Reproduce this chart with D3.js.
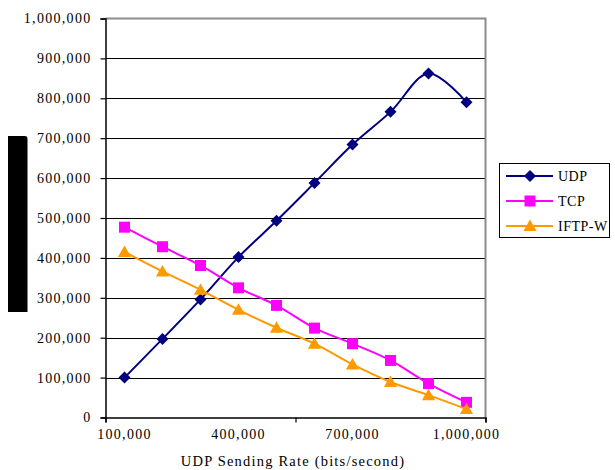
<!DOCTYPE html>
<html>
<head>
<meta charset="utf-8">
<script src="https://cdn.jsdelivr.net/npm/d3@7"></script>
<style>
  html, body { margin: 0; padding: 0; background: #fff; }
  svg text { font-family: "Liberation Serif", "Times New Roman", serif; fill: #000; }
</style>
</head>
<body>
<script>
// Sending rates (categories along the x axis)
const rates = [100000, 200000, 300000, 400000, 500000, 600000, 700000, 800000, 900000, 1000000];
// Throughput per protocol (bits/second)
const udp   = [100000, 197000, 296000, 402000, 493000, 588000, 684000, 766000, 862000, 790000];
const tcp   = [477000, 428000, 381000, 325000, 281000, 224000, 185000, 143000, 85000, 38000];
const iftpw = [415000, 366000, 320000, 270000, 225000, 185000, 133000, 89000, 56000, 21000];
const seriesNames = ["UDP", "TCP", "IFTP-W"];
const yTicks = [0, 100000, 200000, 300000, 400000, 500000, 600000, 700000, 800000, 900000, 1000000];
const xLabelRates = [100000, 400000, 700000, 1000000];
const xAxisTitle = "UDP Sending Rate (bits/second)";

const W = 615, H = 470;
const plot = { left: 105.5, right: 485.5, top: 18.5, bottom: 417.5 };

const svg = d3.select("body").append("svg").attr("width", W).attr("height", H);

const x = d3.scaleBand().domain(rates).range([plot.left, plot.right]).paddingInner(0).paddingOuter(0);
const xEdge = d3.scaleLinear().domain([0, rates.length]).range([plot.left, plot.right]);
const y = d3.scaleLinear().domain([0, 1000000]).range([plot.bottom, plot.top]);
const cx = d => x(d) + x.bandwidth() / 2;

// Horizontal gridlines
svg.append("g").selectAll("line")
  .data(yTicks.filter(v => v > 0 && v < 1000000))
  .join("line")
  .attr("x1", plot.left).attr("x2", plot.right)
  .attr("y1", d => Math.round(y(d)) + 0.5).attr("y2", d => Math.round(y(d)) + 0.5)
  .attr("stroke", "#000").attr("stroke-width", 1);

// Plot-area border on the top and right
svg.append("path")
  .attr("d", `M${plot.left},${plot.top}H${plot.right}V${plot.bottom}`)
  .attr("fill", "none").attr("stroke", "#8c8c8c").attr("stroke-width", 2);

// Y axis
const yAxis = d3.axisLeft(y).tickValues(yTicks).tickFormat(d3.format(",")).tickSize(5).tickPadding(9);
const gy = svg.append("g").attr("transform", `translate(${plot.left},0)`).call(yAxis);
gy.select(".domain").attr("stroke", "#000").attr("stroke-width", 1.5);
gy.selectAll(".tick line").attr("stroke", "#000").attr("stroke-width", 1.2);
gy.selectAll("text").attr("font-size", 14).attr("letter-spacing", "1.3px")
  .attr("font-family", "Liberation Serif, Times New Roman, serif");

// X axis: tick marks at every fifth category edge, labels every third category
const gx = svg.append("g").attr("transform", `translate(0,${plot.bottom})`);
gx.call(d3.axisBottom(xEdge).tickValues([0, 5, 10]).tickSize(5).tickFormat(""));
gx.select(".domain").attr("stroke", "#000").attr("stroke-width", 1.5);
gx.selectAll(".tick line").attr("stroke", "#000").attr("stroke-width", 1.2);
const gxl = svg.append("g").attr("transform", `translate(0,${plot.bottom})`);
gxl.call(d3.axisBottom(x).tickValues(xLabelRates).tickFormat(d3.format(",")).tickSize(0).tickPadding(12));
gxl.select(".domain").remove();
gxl.selectAll("text").attr("font-size", 14).attr("letter-spacing", "1.3px")
  .attr("font-family", "Liberation Serif, Times New Roman, serif");

// X axis title
svg.append("text")
  .attr("x", 293).attr("y", 466)
  .attr("text-anchor", "middle").attr("font-size", 14.5).attr("letter-spacing", "1.2px")
  .text(xAxisTitle);

// Black block at the left edge
svg.append("path")
  .attr("d", "M8,136 H25 Q27.5,136 27.5,139 V312 H8 Z")
  .attr("fill", "#000");

// Square diamond marker (a square turned 45 degrees)
const diamondSq = {
  draw(ctx, size) {
    const r = Math.sqrt(size / 2);
    ctx.moveTo(0, -r); ctx.lineTo(r, 0); ctx.lineTo(0, r); ctx.lineTo(-r, 0); ctx.closePath();
  }
};

// Series
const colors = ["#000080", "#ff00ff", "#ff9900"];
const data = [udp, tcp, iftpw];
const markerSym = [diamondSq, d3.symbolSquare, d3.symbolTriangle];
const markerSize = [72, 121, 75];
const markerDy = [0, 0, 1.2];

const line = d3.line().x((d, i) => cx(rates[i])).y(d => y(d)).curve(d3.curveCatmullRom.alpha(0.5));

data.forEach((vals, k) => {
  const g = svg.append("g");
  g.append("path").datum(vals).attr("d", line)
    .attr("fill", "none").attr("stroke", colors[k]).attr("stroke-width", 2);
  g.selectAll("path.m").data(vals).join("path").attr("class", "m")
    .attr("transform", (d, i) => `translate(${cx(rates[i])},${y(d) + markerDy[k]})`)
    .attr("d", d3.symbol().type(markerSym[k]).size(markerSize[k]))
    .attr("fill", colors[k]);
});

// Legend
const lg = svg.append("g");
lg.append("rect").attr("x", 499.5).attr("y", 163.5).attr("width", 110).attr("height", 74)
  .attr("fill", "#fff").attr("stroke", "#000").attr("stroke-width", 1);
const legY = [176, 201, 226];
seriesNames.forEach((name, k) => {
  lg.append("line").attr("x1", 506).attr("x2", 553).attr("y1", legY[k]).attr("y2", legY[k])
    .attr("stroke", colors[k]).attr("stroke-width", 2);
  lg.append("path").attr("transform", `translate(530,${legY[k] + markerDy[k]})`)
    .attr("d", d3.symbol().type(markerSym[k]).size(markerSize[k]))
    .attr("fill", colors[k]);
  lg.append("text").attr("x", 558).attr("y", legY[k] + 5).attr("font-size", 14)
    .attr("letter-spacing", "0.5px").text(name);
});
</script>
</body>
</html>
